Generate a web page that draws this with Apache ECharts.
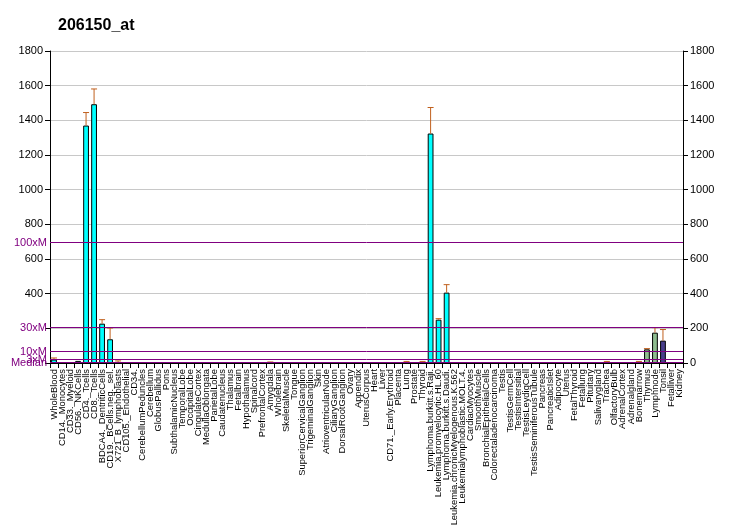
<!DOCTYPE html>
<html><head><meta charset="utf-8">
<script src="https://cdn.jsdelivr.net/npm/echarts@6/dist/echarts.min.js"></script>
<style>html,body{margin:0;padding:0;background:#fff}#c{width:732px;height:530px}</style>
</head><body><div id="c"></div>
<script>
var categories = ["WholeBlood","CD14._Monocytes","CD33._Myeloid","CD56._NKCells","CD4._Tcells","CD8._Tcells","BDCA4._DentriticCells","CD19._BCells.neg._sel.","X721_B_lymphoblasts","CD105._Endothelial","CD34.","CerebellumPeduncles","Cerebellum","GlobusPallidus","Pons","SubthalamicNucleus","TemporalLobe","OccipitalLobe","CingulateCortex","MedullaOblongata","ParietalLobe","Caudatenucleus","Thalamus","Fetalbrain","Hypothalamus","Spinalcord","PrefrontalCortex","Amygdala","Wholebrain","SkeletalMuscle","Tongue","SuperiorCervicalGanglion","TrigeminalGanglion","Skin","AtrioventricularNode","CiliaryGanglion","DorsalRootGanglion","Ovary","Appendix","UterusCorpus","Heart","Liver","CD71._Early.Erythroid","Placenta","Lung","Prostate","Thyroid","Lymphoma.burkitt.s.Raji.","Leukemia.promyelocytic.HL.60","Lymphoma.burkitt.s.Daudi.","Leukemia.chronicMyelogenous.K.562","Leukemialymphoblastic.MOLT.4.","CardiacMyocytes","SmoothMuscle","BronchialEpithelialCells","Colorectaladenocarcinoma","Testis","TestisGermCell","TestisIntersitial","TestisLeydigCell","TestisSeminiferousTubule","Pancreas","PancreaticIslet","Adipocyte","Uterus","FetalThyroid","Fetallung","Pituitary","Salivarygland","Trachea","OlfactoryBulb","AdrenalCortex","Adrenalgland","Bonemarrow","Thymus","Lymphnode","Tonsil","Fetalliver","Kidney"];
var values = [20,2,5,12,1370,1493,227,137,6,4,4,1,1,1,1,1,1,1,1,1,1,1,1,1,1,1,4,3,1,1,1,1,1,1,1,1,1,1,1,1,4,1,1,1,5,1,5,1324,250,406,1,1,4,1,1,1,1,1,1,1,1,1,1,1,1,1,1,1,1,4,1,1,1,5,79,175,129,1,1];
var errTop = [29,null,null,null,1445,1581,250,202,12,null,null,null,null,null,null,null,null,null,null,null,null,null,null,null,null,null,null,6,null,null,null,null,null,null,null,null,null,null,null,null,null,null,null,null,9,null,9,1474,256,452,null,null,null,null,null,null,null,null,null,null,null,null,null,null,null,null,null,null,null,9,null,null,null,9,83,204,193,null,null];
var barColors = {75:"#8FBC8F",76:"#8FBC8F",77:"#483D8B"};
var refNames = ["100xM","30xM","10xM","3xM","Median"];
var refValues = [700,210,70,21,7];
var yTicks = {min:0,max:1800,interval:200};
var leftHidden = [0,200];

var chart = echarts.init(document.getElementById('c'), null, {renderer:'canvas'});
var font = "Liberation Sans, Arial, sans-serif";
var barData = values.map(function(v,i){
  return {value:v, itemStyle:{color: barColors[i+1] || "#00FFFF"}};
});
var errData = [];
errTop.forEach(function(e,i){ if(e!=null) errData.push([i, values[i], e]); });
var refData = refValues.map(function(v,i){ return [0, v, refNames[i]]; });

chart.setOption({
  animation:false,
  title:{text:"206150_at", left:53, top:13, textStyle:{fontFamily:font, fontSize:16, fontWeight:'bold', color:'#000'}},
  grid:{left:50, right:49, top:51, bottom:167, containLabel:false},
  xAxis:{type:'category', data:categories,
    axisLine:{lineStyle:{color:'#000'}},
    axisTick:{show:true, alignWithLabel:false, interval:0, length:5, lineStyle:{color:'#000'}},
    axisLabel:{interval:0, rotate:90, fontSize:9.4, fontFamily:font, color:'#000', margin:6}},
  yAxis:[
    {type:'value', min:yTicks.min, max:yTicks.max, interval:yTicks.interval, position:'left',
      axisLine:{show:true, lineStyle:{color:'#000'}}, axisTick:{show:true, length:5, lineStyle:{color:'#000'}},
      axisLabel:{fontSize:11, fontFamily:font, color:'#000', margin:7,
        formatter:function(v){ return leftHidden.indexOf(v) >= 0 ? '' : String(v); }},
      splitLine:{show:true, lineStyle:{color:'#C8C8C8', width:1}}},
    {type:'value', min:yTicks.min, max:yTicks.max, interval:yTicks.interval, position:'right',
      axisLine:{show:true, lineStyle:{color:'#000'}}, axisTick:{show:true, length:5, lineStyle:{color:'#000'}},
      axisLabel:{fontSize:11, fontFamily:font, color:'#000', margin:7, formatter:function(v){return String(v);}},
      splitLine:{show:false}}
  ],
  series:[
    {type:'bar', data:barData, barWidth:'72%', z:3,
      itemStyle:{borderColor:'#000', borderWidth:1}},
    {type:'custom', z:5, data:refData, clip:false,
      renderItem:function(params, api){
        var cs = params.coordSys;
        var y = Math.round(api.coord([0, api.value(1)])[1]) + 0.5;
        return {type:'group', children:[
          {type:'line', shape:{x1:cs.x, y1:y, x2:cs.x+cs.width, y2:y}, style:{stroke:'#800080', lineWidth:1}},
          {type:'text', x:cs.x-3, y:y, style:{text:refNames[params.dataIndex], fill:'#800080', font:'11px '+font, textAlign:'right', textVerticalAlign:'middle'}}
        ]};
      }},
    {type:'custom', z:4, data:errData,
      renderItem:function(params, api){
        var x = api.value(0);
        var top = api.coord([x, api.value(2)]);
        var bot = api.coord([x, api.value(1)]);
        var cap = 3;
        var st = {stroke:'#C0601E', lineWidth:1};
        return {type:'group', children:[
          {type:'line', shape:{x1:top[0], y1:top[1], x2:bot[0], y2:bot[1]}, style:st},
          {type:'line', shape:{x1:top[0]-cap, y1:top[1], x2:top[0]+cap, y2:top[1]}, style:st}
        ]};
      }}
  ]
});
</script></body></html>
